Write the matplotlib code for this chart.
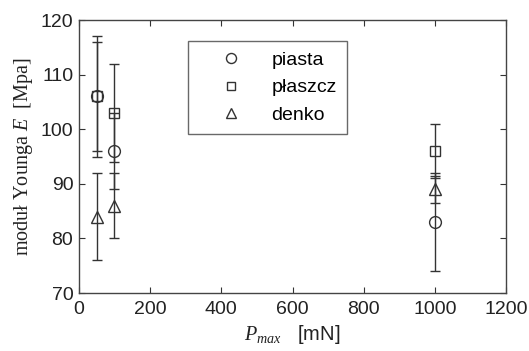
import matplotlib
matplotlib.use("Agg")
import matplotlib.pyplot as plt
from matplotlib.lines import Line2D

plt.rcParams['font.family'] = ['Liberation Sans', 'DejaVu Sans']
plt.rcParams['mathtext.fontset'] = 'custom'
plt.rcParams['mathtext.rm'] = 'Liberation Serif'
plt.rcParams['mathtext.it'] = 'Liberation Serif:italic'

# Young's modulus measured at three locations vs. maximum load
p_max = [50, 100, 1000]
series_names = ['piasta', 'płaszcz', 'denko']
piasta = [106, 96, 83]
piasta_err = [10, 7, 9]
plaszcz = [106, 103, 96]
plaszcz_err = [11, 9, 5]
denko = [84, 86, 89]
denko_err = [8, 6, 2.5]

x_ticks = [0, 200, 400, 600, 800, 1000, 1200]
y_ticks = [70, 80, 90, 100, 110, 120]

fig = plt.figure(figsize=(5.29, 3.51), dpi=100)
ax = fig.add_axes([0.149, 0.165, 0.808, 0.778])

line_col = '#333333'
styles = [('o', 8.5), ('s', 6.5), ('^', 8.5)]
handles = []
for (vals, errs), name, (mk, ms) in zip(
        [(piasta, piasta_err), (plaszcz, plaszcz_err), (denko, denko_err)],
        series_names, styles):
    ax.errorbar(p_max, vals, yerr=errs, fmt=mk, ms=ms, mfc='none',
                mec=line_col, mew=1.0, ecolor=line_col, elinewidth=1.0,
                capsize=3.5, capthick=1.0, linestyle='none')
    handles.append(Line2D([], [], marker=mk, ms=ms * 0.85, mfc='none',
                          mec=line_col, mew=1.0, linestyle='none',
                          label=name))

ax.set_xlim(0, 1200)
ax.set_ylim(70, 120)
ax.set_xticks(x_ticks)
ax.set_yticks(y_ticks)
ax.tick_params(direction='in', top=True, right=True, labelsize=14,
               length=4, width=0.8, colors='#333333', labelcolor='#222222')
ax.tick_params(axis='x', pad=6)
ax.tick_params(axis='y', pad=4)
for s in ax.spines.values():
    s.set_color('#444444')
    s.set_linewidth(1.0)

ax.set_xlabel('$P_{max}$   [mN]', fontsize=14.5, color='#222222', labelpad=3)
ax.set_ylabel('moduł Younga $E$  [Mpa]', fontsize=14.5, color='#222222',
              family='Liberation Serif', labelpad=4)

leg = ax.legend(handles=handles, loc='upper left',
                bbox_to_anchor=(0.255, 0.589, 0.372, 0.335), mode='expand',
                fontsize=14, frameon=True, fancybox=False,
                edgecolor='#444444', borderpad=0.55, handlelength=3.3,
                handletextpad=0.45, labelspacing=0.5, borderaxespad=0)
leg.get_frame().set_linewidth(1.0)

fig.savefig('out.png', dpi=100)
